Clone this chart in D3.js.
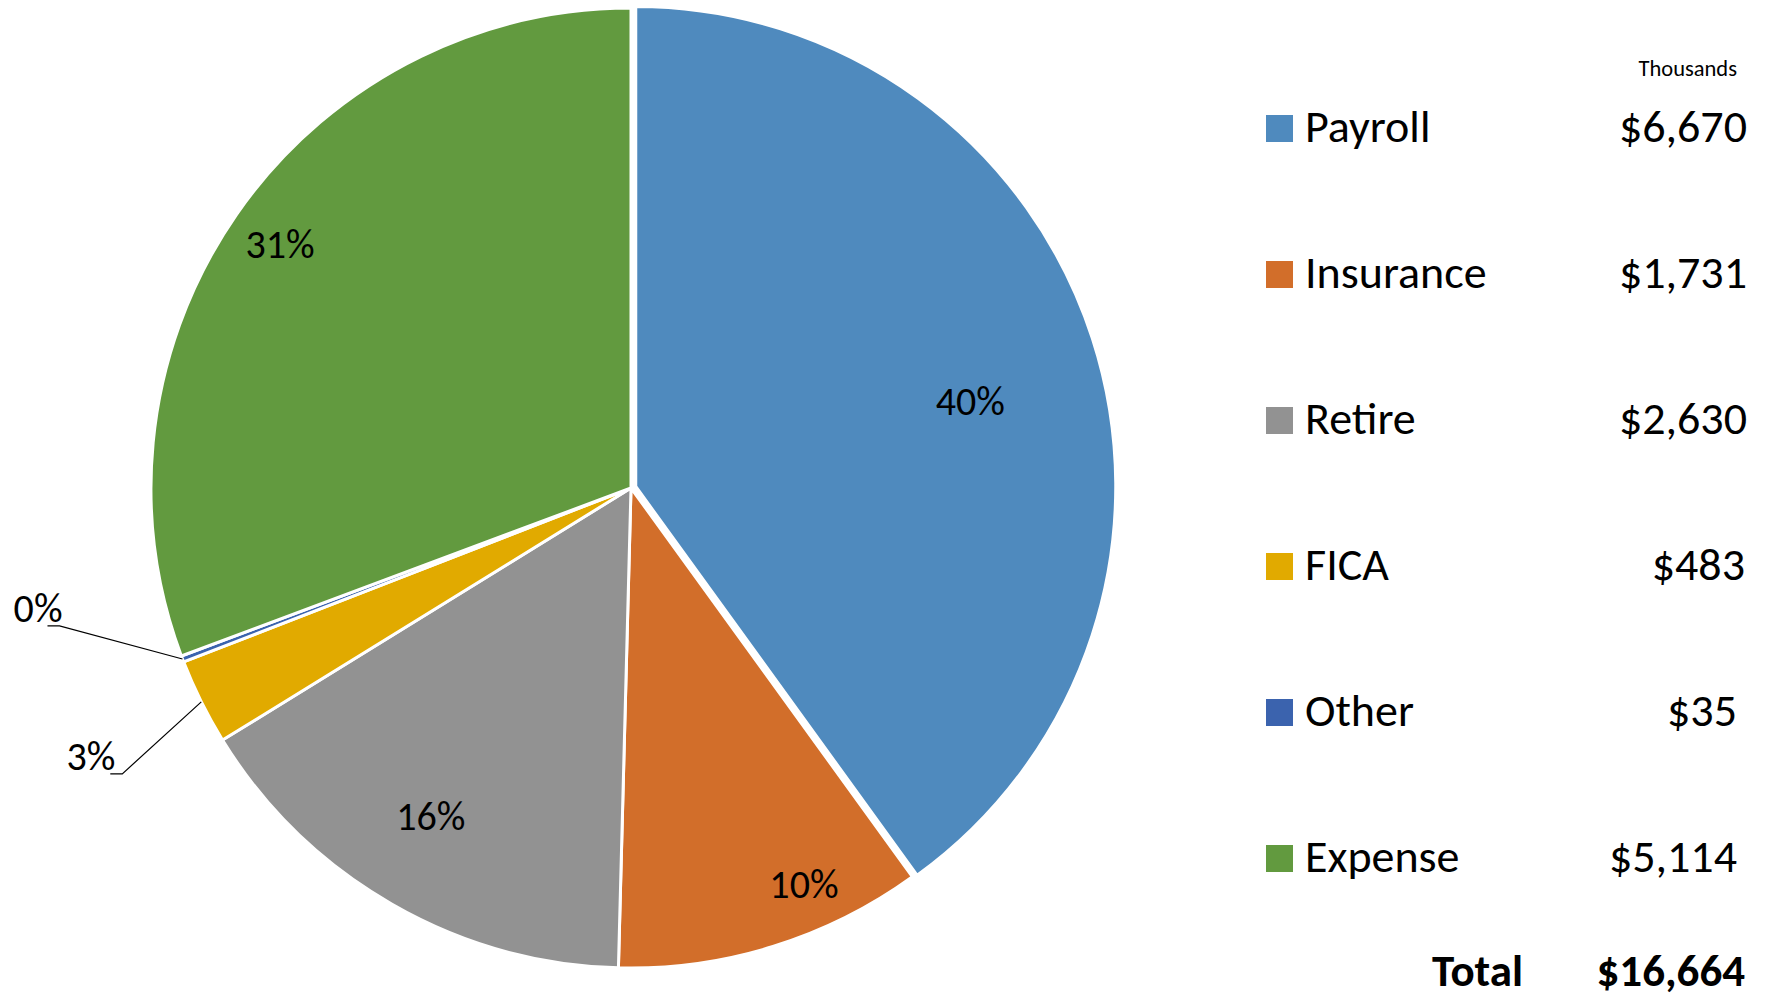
<!DOCTYPE html>
<html>
<head>
<meta charset="utf-8">
<script src="https://cdn.jsdelivr.net/npm/d3@7"></script>
<style>
  body { margin: 0; background: #fff; }
  text { font-family: Carlito, Calibri, Lato, sans-serif; fill: #000; }
</style>
</head>
<body>
<div id="chart"></div>
<script>
// data, in thousands
const categories = ["Payroll", "Insurance", "Retire", "FICA", "Other", "Expense"];
const amounts = [6670, 1731, 2630, 483, 35, 5114];
const amountLabels = ["$6,670", "$1,731", "$2,630", "$483", "$35", "$5,114"];
const totalLabel = "$16,664";
const colors = ["#4f8abe", "#d26e2a", "#929292", "#e1aa00", "#3b63ae", "#629a3f"];

const width = 1771, height = 1000;
const cx = 631, cy = 488, R = 480;

// label placement: radius fraction + angle shift (deg) for inside labels,
// leader elbow offset [dx, dy, text dx] for outside ones
const labelR = [0.73, 0.9, 0.8, null, null, 0.89];
const labelShift = [3.5, -6.4, 1.5, 0, 0, 0];
const leader = { 3: [-79, 72, -7], 4: [-123, -33, 3] };
const explode = [5, 0, 0, 0, 0, 0];
// value column right edge nudges (the source table is not perfectly aligned)
const valueNudge = [0, 0, 0, -2, -10, -10];

const total = d3.sum(amounts);
const data = categories.map((c, i) => ({ name: c, value: amounts[i], i }));

const svg = d3.select("#chart").append("svg")
  .attr("width", width)
  .attr("height", height);

const pie = d3.pie().value(d => d.value).sort(null);
const arcs = pie(data);
const arc = d3.arc().innerRadius(0).outerRadius(R);
const pct = d3.format(".0%");

const g = svg.append("g").attr("transform", `translate(${cx},${cy})`);

g.selectAll("path")
  .data(arcs)
  .join("path")
  .attr("d", arc)
  .attr("fill", d => colors[d.data.i])
  .attr("stroke", "#fff")
  .attr("stroke-width", 3)
  .attr("stroke-linejoin", "round")
  .attr("transform", d => {
    const e = explode[d.data.i];
    const a = (d.startAngle + d.endAngle) / 2;
    return `translate(${Math.sin(a) * e},${-Math.cos(a) * e})`;
  });

// percentage labels
arcs.forEach(d => {
  const i = d.data.i;
  const a = (d.startAngle + d.endAngle) / 2;
  if (labelR[i] != null) {
    const r = R * labelR[i];
    const b = a + labelShift[i] * Math.PI / 180;
    g.append("text")
      .attr("x", Math.sin(b) * r)
      .attr("y", -Math.cos(b) * r)
      .attr("text-anchor", "middle")
      .attr("dy", "0.35em")
      .attr("font-size", 40)
      .text(pct(d.value / total));
  } else {
    const ex = Math.sin(a) * R, ey = -Math.cos(a) * R;
    const [ox, oy, tdx] = leader[i];
    const kx = ex + ox, ky = ey + oy;
    g.append("path")
      .attr("d", `M${ex},${ey}L${kx},${ky}L${kx - 12},${ky}`)
      .attr("fill", "none")
      .attr("stroke", "#000")
      .attr("stroke-width", 1.2);
    g.append("text")
      .attr("x", kx + tdx)
      .attr("y", ky - 4)
      .attr("text-anchor", "end")
      .attr("font-size", 40)
      .text(pct(d.value / total));
  }
});

// legend table
const rowY = d3.scalePoint().domain(categories).range([142, 872]);
const legend = svg.append("g");

legend.append("text")
  .attr("x", 1737).attr("y", 76)
  .attr("text-anchor", "end")
  .attr("font-size", 22.5)
  .text("Thousands");

const rows = legend.selectAll("g.row")
  .data(data)
  .join("g")
  .attr("class", "row")
  .attr("transform", d => `translate(0,${rowY(d.name)})`);

rows.append("rect")
  .attr("x", 1266).attr("y", -27)
  .attr("width", 27).attr("height", 27)
  .attr("fill", d => colors[d.i]);

rows.append("text")
  .attr("x", 1305).attr("y", 0)
  .attr("font-size", 46)
  .text(d => d.name);

rows.append("text")
  .attr("x", d => 1747 + valueNudge[d.i]).attr("y", 0)
  .attr("text-anchor", "end")
  .attr("font-size", 46)
  .text(d => amountLabels[d.i]);

legend.append("text")
  .attr("x", 1523).attr("y", 986)
  .attr("text-anchor", "end")
  .attr("font-size", 45)
  .attr("font-weight", "bold")
  .text("Total");

legend.append("text")
  .attr("x", 1745).attr("y", 986)
  .attr("text-anchor", "end")
  .attr("font-size", 45)
  .attr("font-weight", "bold")
  .text(totalLabel);
</script>
</body>
</html>
